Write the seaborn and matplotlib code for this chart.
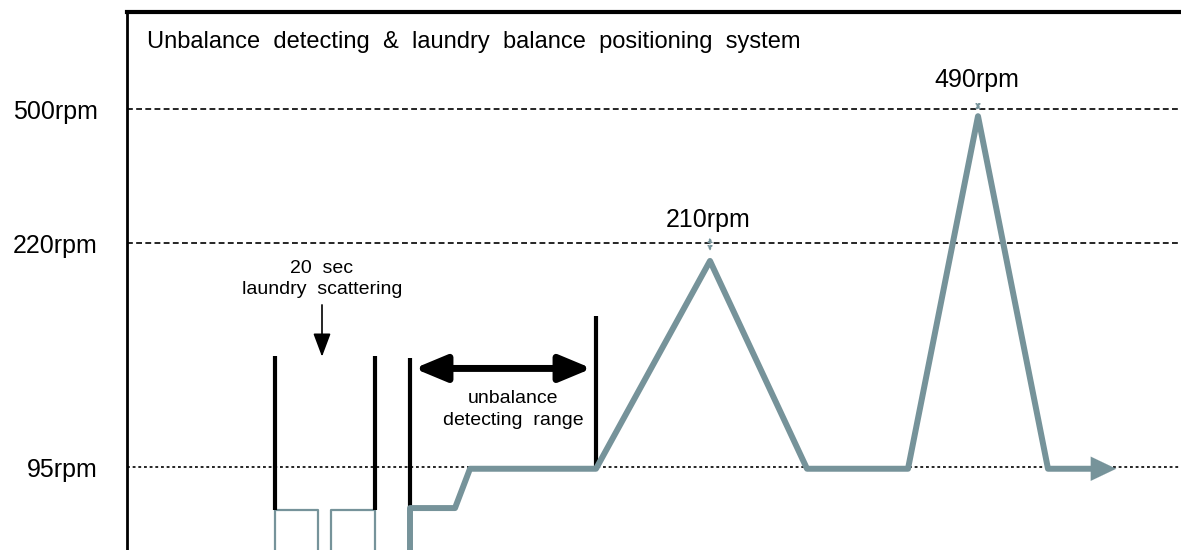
import numpy as np
import pandas as pd
import seaborn as sns
import matplotlib.pyplot as plt

# spin profile (time in s, speed in rpm)
main_time = [56.6, 56.6, 65.6, 68.6, 93.8, 116.6, 136.0, 156.2, 170.2, 184.2, 194.0]
main_rpm = [0, 48, 48, 93, 93, 210, 93, 93, 485, 93, 93]

# laundry scattering pulses
pulse_time = [[29.6, 29.6, 38.2, 38.2], [40.8, 40.8, 49.6, 49.6]]
pulse_rpm = [0, 46, 46, 0]

# reference speeds
ref_rpm = [95, 220, 500]
ref_labels = ["95rpm", "220rpm", "500rpm"]
peak_rpm = [210, 490]
peak_time = [116.6, 170.2]

# black markers: time, bottom, top
marker_time = [29.6, 49.6, 56.6, 93.8]
marker_low = [46, 46, 48, 93]
marker_high = [157, 157, 156, 179]

# non linear speed axis
rpm_nodes = [0, 95, 220, 500, 703]
pos_nodes = [0, 83, 307, 441, 538]

def fwd(v):
    return np.interp(v, rpm_nodes, pos_nodes)

def inv(v):
    return np.interp(v, pos_nodes, rpm_nodes)

sns.set_theme(style="white")
plt.rcParams['font.family'] = ['Liberation Sans', 'DejaVu Sans']
plt.rcParams['text.color'] = 'black'

teal = "#76939a"
fig = plt.figure(figsize=(11.81, 5.5), dpi=100)
ax = fig.add_axes([127 / 1181, 0, 1 - 127 / 1181, 538 / 550])
ax.set_yscale("function", functions=(fwd, inv))
ax.set_xlim(0, 210.8)
ax.set_ylim(0, 703)

# reference lines
ax.axhline(95, color="black", lw=1.2, ls=(0, (1.7, 1.7)), zorder=1)
for r in ref_rpm[1:]:
    ax.axhline(r, color="black", lw=1.2, ls=(0, (3.5, 2)), zorder=1)

for t in pulse_time:
    sns.lineplot(x=t, y=pulse_rpm, sort=False, estimator=None, color=teal, lw=1.6, ax=ax)

ax.vlines(marker_time, marker_low, marker_high, color="black", lw=3, zorder=2)

df = pd.DataFrame({"time": main_time, "rpm": main_rpm})
sns.lineplot(data=df, x="time", y="rpm", sort=False, estimator=None,
             color=teal, lw=4.3, ax=ax, zorder=3)
ax.annotate("", xy=(198.4, main_rpm[-1]), xytext=(193.0, main_rpm[-1]),
            arrowprops=dict(arrowstyle="-|>,head_length=1.3,head_width=0.62",
                            mutation_scale=14, color=teal, lw=0.1), zorder=3)

# detecting range arrow
ax.annotate("", xy=(56.9, 150), xytext=(93.5, 150),
            arrowprops=dict(arrowstyle="<|-|>,head_length=1.2,head_width=0.5",
                            mutation_scale=16, color="black", lw=5))
ax.text(77.2, 127, "unbalance\ndetecting  range", ha="center", va="center",
        fontsize=14, linespacing=1.35)

# scattering arrow
ax.annotate("", xy=(39.0, 155), xytext=(39.0, 187),
            arrowprops=dict(arrowstyle="-|>,head_length=1.2,head_width=0.45",
                            mutation_scale=12, color="black", lw=1.2))
ax.text(39.0, 200, "20  sec\nlaundry  scattering", ha="center", va="center",
        fontsize=14, linespacing=1.35)

# peak labels
for t, p in zip(peak_time, peak_rpm):
    ax.annotate("", xy=(t, p + 28), xytext=(t, p + 4),
                arrowprops=dict(arrowstyle="<|-|>,head_length=0.5,head_width=0.25",
                                mutation_scale=6, color=teal, lw=0.8, ls=":"))
ax.text(peak_time[0] - 0.4, 268, f"{peak_rpm[0]}rpm", ha="center", va="center", fontsize=18)
ax.text(peak_time[1] - 0.2, 561, f"{peak_rpm[1]}rpm", ha="center", va="center", fontsize=18)

ax.text(4, 640, "Unbalance  detecting  &  laundry  balance  positioning  system",
        ha="left", va="center", fontsize=17)

ax.set_yticks(ref_rpm)
ax.set_yticklabels(ref_labels, fontsize=18)
ax.yaxis.set_minor_locator(plt.NullLocator())
ax.set_xticks([])
ax.tick_params(axis="y", length=0, pad=21, colors="black")
ax.set_xlabel("")
ax.set_ylabel("")

for s in ["right", "bottom"]:
    ax.spines[s].set_visible(False)
ax.spines["left"].set_color("black")
ax.spines["left"].set_linewidth(2)
ax.spines["top"].set_color("black")
ax.spines["top"].set_linewidth(3)

fig.savefig("out.png", dpi=100)
